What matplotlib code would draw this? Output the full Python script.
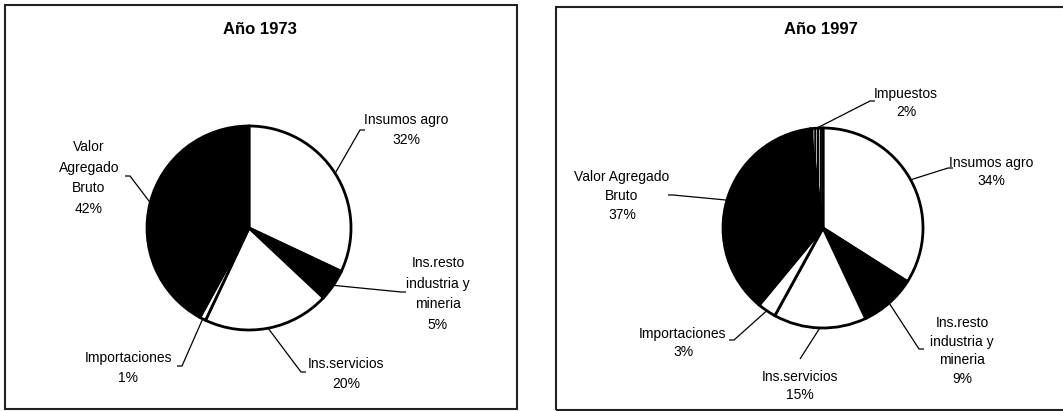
import numpy as np
import matplotlib
matplotlib.use("Agg")
import matplotlib.pyplot as plt
from matplotlib.patches import Rectangle

plt.rcParams['font.family'] = ['Liberation Sans', 'DejaVu Sans']
plt.rcParams['hatch.linewidth'] = 1.5

# ---------------- data ----------------
title_1973 = "Año 1973"
labels_1973 = ["Insumos agro", "Ins.resto\nindustria y\nmineria", "Ins.servicios",
               "Importaciones", "Valor\nAgregado\nBruto"]
values_1973 = [32, 5, 20, 1, 42]
colors_1973 = ["white", "black", "white", "white", "black"]

title_1997 = "Año 1997"
labels_1997 = ["Insumos agro", "Ins.resto\nindustria y\nmineria", "Ins.servicios",
               "Importaciones", "Valor Agregado\nBruto", "Impuestos"]
values_1997 = [34, 9, 15, 3, 37, 2]
colors_1997 = ["white", "black", "white", "white", "black", "white"]
hatches_1997 = [None, None, None, None, None, "||||||"]

# ---------------- layout (pixel coords, y downward) ----------------
W, H = 1063, 411
fig = plt.figure(figsize=(W / 100, H / 100), dpi=100)
ax = fig.add_axes([0, 0, 1, 1])


def Y(y):
    return H - y


panels = [
    dict(title=title_1973, labels=labels_1973, values=values_1973, colors=colors_1973,
         hatches=[None] * len(values_1973),
         box=(5, 5, 517, 409), title_xy=(260, 29), center=(249, 228), r=102,
         label_xy=[(406, 130), (438, 294), (346, 374), (128, 368), (89, 178)],
         leader_end=[(360, 130), (401, 292), (301, 372), (182, 366), (130, 176)],
         leader_dir=[1, 1, 1, -1, -1], ls=1.58),
    dict(title=title_1997, labels=labels_1997, values=values_1997, colors=colors_1997,
         hatches=hatches_1997,
         box=(556, 7, 1075, 410), title_xy=(821, 30), center=(823, 228), r=100,
         label_xy=[(991, 172), (962, 351), (800, 386), (683, 343), (622, 196), (906, 103)],
         leader_end=[(948, 168), (919, 349), (800, 359), (734, 340), (673, 195), (870, 101)],
         leader_dir=[1, 1, 0, -1, -1, 1], ls=1.45),
]

for p in panels:
    x0, y0, x1, y1 = p["box"]
    ax.add_patch(Rectangle((x0, Y(y1)), x1 - x0, y1 - y0, fill=False,
                           edgecolor="#222222", linewidth=1.5, zorder=0))
    ax.text(p["title_xy"][0], Y(p["title_xy"][1]), p["title"], ha="center", va="center",
            fontsize=12, fontweight="bold")
    cx, cy = p["center"]
    wedges, _ = ax.pie(p["values"], colors=p["colors"], startangle=90, counterclock=False,
                       center=(cx, Y(cy)), radius=p["r"], frame=True,
                       wedgeprops=dict(edgecolor="black", linewidth=2.0))
    for w, h in zip(wedges, p["hatches"]):
        if h:
            w.set_hatch(h)
    total = float(sum(p["values"]))
    cum = 0.0
    for i, (lab, v) in enumerate(zip(p["labels"], p["values"])):
        mid = 90 - (cum + v / 2.0) / total * 360.0
        cum += v
        sx = cx + p["r"] * np.cos(np.radians(mid))
        sy = Y(cy) + p["r"] * np.sin(np.radians(mid))
        ex, ey = p["leader_end"][i]
        d = p["leader_dir"][i]
        ax.plot([sx, ex, ex + 5 * d], [sy, Y(ey), Y(ey)], color="black", linewidth=0.9,
                solid_capstyle="butt")
        lx, ly = p["label_xy"][i]
        ax.text(lx, Y(ly), f"{lab}\n{v}%", ha="center", va="center", fontsize=10,
                linespacing=p["ls"])

ax.set_xlim(0, W)
ax.set_ylim(0, H)
ax.set_aspect("auto")
ax.axis("off")
fig.savefig("out.png", dpi=100, facecolor="white")
